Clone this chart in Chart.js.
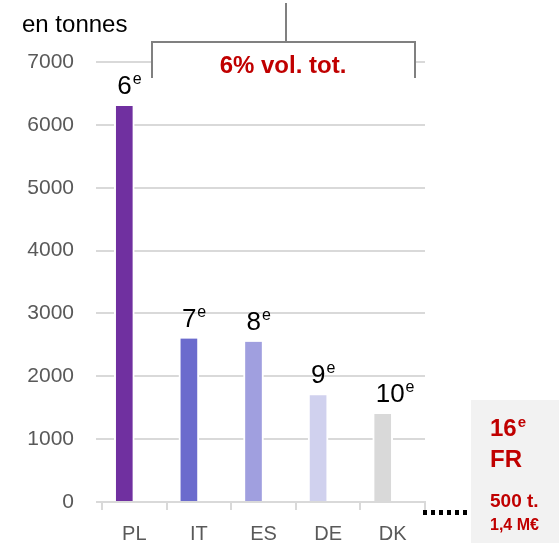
<!DOCTYPE html>
<html lang="fr">
<head>
  <meta charset="UTF-8">
  <title>Volumes en tonnes</title>
  <script src="https://cdn.jsdelivr.net/npm/chart.js"></script>
  <style>
    html, body { margin: 0; padding: 0; background: #ffffff; }
    #wrap { width: 559px; height: 543px; position: relative; }
  </style>
</head>
<body>
  <div id="wrap">
    <canvas id="volChart" width="559" height="543"></canvas>
  </div>

  <script>
    // countries and their volumes (tonnes)
    const countries = ['PL', 'IT', 'ES', 'DE', 'DK'];
    const volumes = [6300, 2600, 2550, 1700, 1400];
    const ranks = ['6', '7', '8', '9', '10'];
    const barColors = ['#7030a0', '#6b6bcd', '#a09fdf', '#d0d1ee', '#d9d9d9'];

    // y axis range
    const yMin = 0;
    const yMax = 7000;
    const yStep = 1000;

    const unitLabel = 'en tonnes';
    const shareLabel = '6% vol. tot.';

    // France, shown outside the chart
    const frRank = '16';
    const frCode = 'FR';
    const frVolume = '500 t.';
    const frValue = '1,4 M€';

    const FONT = '"Liberation Sans", Arial, sans-serif';
    const RED = '#c00000';

    // number followed by a superscript "e", starting at x
    function drawRank(ctx, num, x, baseline, size, weight, color) {
      const supSize = Math.round(size * 0.62);
      ctx.fillStyle = color;
      ctx.textAlign = 'left';
      ctx.textBaseline = 'alphabetic';
      ctx.font = weight + ' ' + size + 'px ' + FONT;
      const w = ctx.measureText(num).width;
      ctx.fillText(num, x, baseline);
      ctx.font = weight + ' ' + supSize + 'px ' + FONT;
      ctx.fillText('e', x + w + 1, baseline - size * 0.38);
    }

    const extras = {
      id: 'extras',
      afterDraw(chart) {
        const ctx = chart.ctx;
        const area = chart.chartArea;
        ctx.save();

        // unit label
        ctx.fillStyle = '#000000';
        ctx.font = '24px ' + FONT;
        ctx.textAlign = 'left';
        ctx.textBaseline = 'alphabetic';
        ctx.fillText(unitLabel, 22, 32);

        // bracket over the bars
        const bl = 152, br = 415, by = 42, bLeg = 78, bStem = 286;
        ctx.fillStyle = '#ffffff';
        ctx.fillRect(bl + 1, by + 1, br - bl - 2, bLeg - by - 1);
        ctx.strokeStyle = '#808080';
        ctx.lineWidth = 2;
        ctx.beginPath();
        ctx.moveTo(bStem, 3);
        ctx.lineTo(bStem, by);
        ctx.moveTo(bl, bLeg);
        ctx.lineTo(bl, by);
        ctx.lineTo(br, by);
        ctx.lineTo(br, bLeg);
        ctx.stroke();

        ctx.fillStyle = RED;
        ctx.font = 'bold 24px ' + FONT;
        ctx.textAlign = 'center';
        ctx.fillText(shareLabel, 283, 73);

        // rank above each bar
        const meta = chart.getDatasetMeta(0);
        meta.data.forEach((bar, i) => {
          drawRank(ctx, ranks[i], bar.x - 7, bar.y - 12, 26, 'normal', '#000000');
        });

        // dotted leader to the France box
        ctx.fillStyle = '#000000';
        for (let x = area.right - 2; x < 470; x += 8) {
          ctx.fillRect(x, 510, 4, 5);
        }

        // France box
        ctx.fillStyle = '#f2f2f2';
        ctx.fillRect(471, 400, 88, 143);
        drawRank(ctx, frRank, 490, 436, 24, 'bold', RED);
        ctx.fillStyle = RED;
        ctx.textAlign = 'left';
        ctx.font = 'bold 24px ' + FONT;
        ctx.fillText(frCode, 490, 467);
        ctx.font = 'bold 19px ' + FONT;
        ctx.fillText(frVolume, 490, 507);
        ctx.font = 'bold 16px ' + FONT;
        ctx.fillText(frValue, 490, 530);

        ctx.restore();
      }
    };

    new Chart(document.getElementById('volChart'), {
      type: 'bar',
      data: {
        labels: countries,
        datasets: [{
          data: volumes,
          backgroundColor: barColors,
          borderColor: '#ffffff',
          borderWidth: { top: 0, left: 2, right: 2, bottom: 0 },
          borderSkipped: false,
          barThickness: 20
        }, {
          // empty second series, keeps the bars left of the category centre
          data: [],
          barThickness: 20
        }]
      },
      options: {
        responsive: false,
        animation: false,
        layout: { padding: { top: 62, left: 0, right: 134, bottom: 0 } },
        plugins: {
          legend: { display: false },
          tooltip: { enabled: false }
        },
        scales: {
          x: {
            offset: true,
            afterFit: (scale) => { scale.height = 41; },
            grid: {
              offset: true,
              drawOnChartArea: false,
              color: '#d9d9d9',
              lineWidth: 2,
              tickLength: 8
            },
            border: { color: '#d9d9d9', width: 2 },
            ticks: {
              color: '#595959',
              padding: 12,
              font: { family: FONT, size: 20 }
            }
          },
          y: {
            min: yMin,
            max: yMax,
            afterFit: (scale) => { scale.width = 102; },
            grid: {
              color: '#d9d9d9',
              lineWidth: 2,
              tickLength: 6
            },
            border: { display: false },
            ticks: {
              stepSize: yStep,
              color: '#595959',
              padding: 22,
              font: { family: FONT, size: 21 },
              callback: (v) => String(v)
            }
          }
        }
      },
      plugins: [extras]
    });
  </script>
</body>
</html>
